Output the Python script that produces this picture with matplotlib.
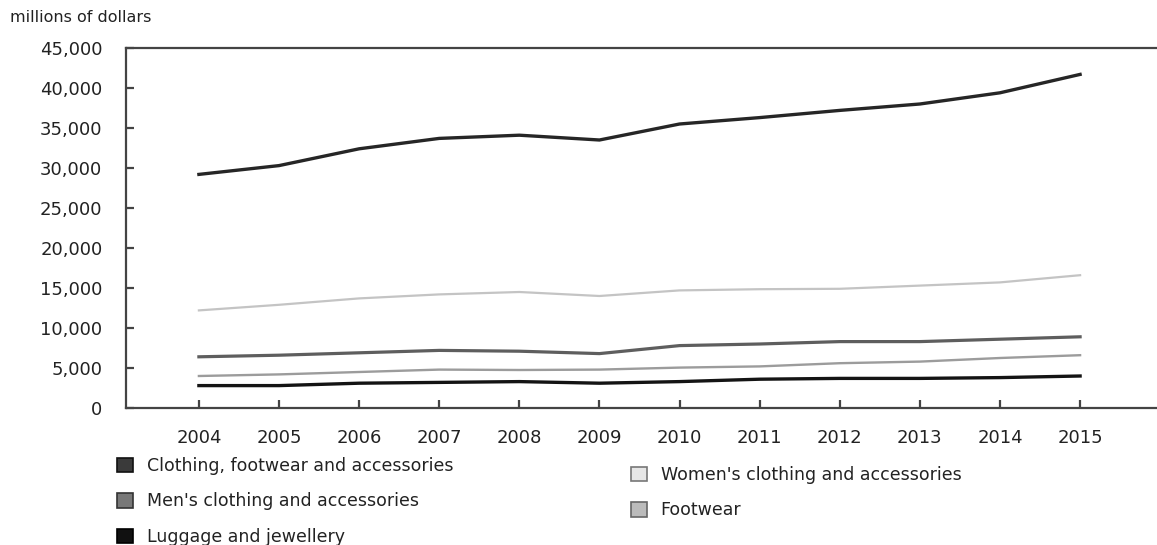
import matplotlib
matplotlib.use("Agg")
import matplotlib.pyplot as plt
from matplotlib.patches import Patch
from matplotlib.ticker import FuncFormatter, MultipleLocator

# Retail sales, millions of dollars
years = list(range(2004, 2016))
clothing_footwear_accessories = [29200, 30300, 32400, 33700, 34100, 33500, 35500, 36300, 37200, 38000, 39400, 41700]
womens_clothing = [12200, 12900, 13700, 14200, 14500, 14000, 14700, 14850, 14900, 15300, 15700, 16600]
mens_clothing = [6400, 6600, 6900, 7200, 7100, 6800, 7800, 8000, 8300, 8300, 8600, 8900]
footwear = [4000, 4200, 4500, 4800, 4750, 4800, 5050, 5200, 5600, 5800, 6250, 6600]
luggage_jewellery = [2800, 2800, 3100, 3200, 3300, 3100, 3300, 3600, 3700, 3700, 3800, 4000]

series_labels = [
    "Clothing, footwear and accessories",
    "Women's clothing and accessories",
    "Men's clothing and accessories",
    "Footwear",
    "Luggage and jewellery",
]

plt.rcParams["font.family"] = ["DejaVu Sans"]
TXT = "#222222"

fig = plt.figure(figsize=(11.57, 5.45), dpi=100)
ax = fig.add_axes([126 / 1157, 1 - 408 / 545, 1 - 126 / 1157, (408 - 48) / 545])

ax.plot(years, womens_clothing, color="#c4c4c4", lw=1.6, zorder=3)
ax.plot(years, footwear, color="#9c9c9c", lw=1.7, zorder=3)
ax.plot(years, mens_clothing, color="#5e5e5e", lw=2.3, zorder=3)
ax.plot(years, luggage_jewellery, color="#141414", lw=2.4, zorder=4)
ax.plot(years, clothing_footwear_accessories, color="#262626", lw=2.4, zorder=4)

ax.set_xlim(2003.09, 2015.96)
ax.set_ylim(0, 45000)
ax.set_xticks(years)
ax.yaxis.set_major_locator(MultipleLocator(5000))
ax.yaxis.set_major_formatter(FuncFormatter(lambda v, p: f"{int(v):,}"))

for side in ("left", "top", "bottom"):
    ax.spines[side].set_linewidth(1.6)
    ax.spines[side].set_color("#444444")
ax.spines["right"].set_visible(False)

ax.tick_params(axis="y", direction="in", length=6, width=1.6, color="#444444",
               pad=17, labelsize=13, labelcolor=TXT)
ax.tick_params(axis="x", direction="in", length=6, width=1.6, color="#444444",
               pad=15, labelsize=13, labelcolor=TXT)

fig.text(10 / 1157, 1 - 17 / 545, "millions of dollars", fontsize=11.5,
         color=TXT, ha="left", va="center")

swatch = dict(linewidth=1.2)
h_total = Patch(facecolor="#3a3a3a", edgecolor="#111111", **swatch)
h_women = Patch(facecolor="#e6e6e6", edgecolor="#777777", **swatch)
h_men = Patch(facecolor="#787878", edgecolor="#333333", **swatch)
h_foot = Patch(facecolor="#bbbbbb", edgecolor="#666666", **swatch)
h_lug = Patch(facecolor="#111111", edgecolor="#000000", **swatch)

common = dict(loc="upper left", frameon=False, fontsize=12.5, handlelength=0.9,
              handleheight=0.9, handletextpad=0.8, labelspacing=1.0,
              borderpad=0, borderaxespad=0, labelcolor=TXT)
fig.legend([h_total, h_men, h_lug], [series_labels[0], series_labels[2], series_labels[4]],
           bbox_to_anchor=(117 / 1157, 1 - 457 / 545), **common)
fig.legend([h_women, h_foot], [series_labels[1], series_labels[3]],
           bbox_to_anchor=(631 / 1157, 1 - 466 / 545), **common)

fig.savefig("out.png", dpi=100, facecolor="white")
